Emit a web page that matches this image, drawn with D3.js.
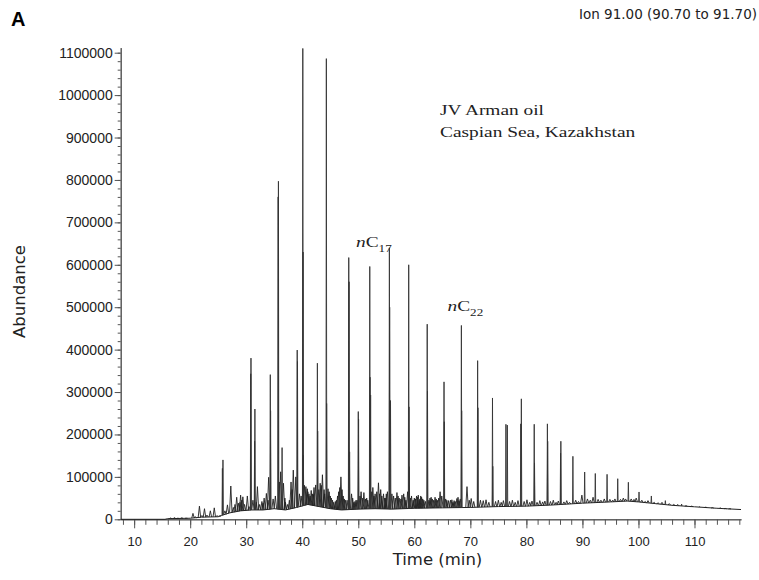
<!DOCTYPE html>
<html>
<head>
<meta charset="utf-8">
<script src="https://cdn.jsdelivr.net/npm/d3@7"></script>
<style>
body { margin: 0; background: #fff; }
</style>
</head>
<body>
<div id="graph_draw"></div>
<script>
// tick labels
var xTicks = [10, 20, 30, 40, 50, 60, 70, 80, 90, 100, 110];
var yTicks = [0, 100000, 200000, 300000, 400000, 500000, 600000, 700000, 800000, 900000, 1000000, 1100000];

// big peaks (n-alkanes and the strong aromatics), time in min / abundance
var peakTimes = [25.75, 25.85, 30.8, 30.85, 31.5, 31.55, 34.3, 34.35, 35.7, 35.75, 36.4, 39.1, 39.15,
    40.1, 40.15, 40.2, 42.7, 42.75, 44.3, 44.35, 48.3, 48.35, 48.45, 50.0, 50.05, 52.05, 52.1, 52.2,
    55.55, 55.6, 55.75, 59.0, 59.05, 59.1, 62.3, 62.35, 65.3, 65.35, 68.4, 68.45, 71.3, 71.35,
    73.95, 74.0, 76.35, 76.6, 79.0, 79.1, 81.4, 81.45, 83.75, 83.8, 86.1, 86.15, 88.3, 90.4,
    92.3, 94.4, 96.3, 98.2, 100.1, 102.3, 104.8, 107.7, 110.9, 114.6];
var peakHeights = [120000, 140000, 343000, 380000, 184000, 260000, 341000, 256000, 760000, 797000, 169000, 399000, 372000,
    1110000, 630000, 151000, 368000, 208000, 1086000, 273000, 617000, 560000, 159000, 254000, 236000, 596000, 335000, 293000,
    640000, 500000, 280000, 600000, 265000, 124000, 460000, 302000, 324000, 230000, 457000, 256000, 374000, 263000,
    286000, 125000, 224000, 222000, 225000, 284000, 224000, 133000, 225000, 184000, 156000, 184000, 148500, 111500,
    108000, 106000, 95700, 87300, 64400, 55000, 44000, 36000, 30000, 27500];

// small peaks riding on the hump
var minorTimes = [16.5, 17.2, 17.8, 18.5, 19.3, 20.5, 20.9, 21.65, 22.1, 22.55, 23.0, 23.6, 24.3, 24.8, 25.3,
    26.2, 26.65, 27.25, 27.7, 28.0, 28.3, 28.6, 29.0, 29.4, 29.7, 30.2, 30.5,
    31.2, 32.0, 32.4, 32.8, 33.2, 33.6, 34.0, 34.8, 35.2, 35.9, 36.15, 36.65,
    37.0, 37.4, 38.0, 38.4, 38.85, 39.5, 40.65, 41.0, 41.4, 41.8, 42.1, 42.4, 43.2, 43.6, 43.9,
    44.8, 45.2, 45.6, 46.1, 46.5, 46.9, 47.3, 47.7, 48.8, 49.2, 49.6, 50.5, 51.0, 51.5,
    52.6, 53.0, 53.6, 54.0, 54.5, 54.9, 55.2, 56.3, 56.9, 57.3, 57.8, 58.1, 58.5, 59.5,
    60.0, 60.4, 60.7, 61.0, 61.3, 61.7, 62.8, 63.2, 63.7, 64.1, 64.6, 64.9, 65.8, 66.45, 66.9, 67.3, 67.6, 68.0,
    69.4, 69.8, 70.15, 70.6, 71.8, 72.3, 72.8, 73.3, 74.5, 75.0, 75.5, 75.9, 77.0, 77.5, 78.0, 78.5,
    79.6, 80.1, 80.6, 81.0, 81.9, 82.4, 82.9, 83.3, 84.3, 84.8, 85.3, 85.7, 86.7, 87.2, 87.7,
    88.8, 89.3, 89.9, 90.9, 91.4, 91.9, 92.8, 93.3, 93.9, 94.9, 95.4, 95.8, 96.8, 97.3, 97.7,
    98.7, 99.2, 99.6, 100.6, 101.2, 101.7, 102.8, 103.5, 104.2, 105.5, 106.3, 107.0, 108.5, 109.5,
    112.0, 113.2, 115.5, 116.3];
var minorHeights = [3000, 4000, 2500, 3500, 2500, 14000, 6000, 31000, 9000, 25000, 10000, 20000, 27000, 9000, 8000,
    20000, 34000, 78500, 28000, 35000, 52000, 38000, 57000, 53000, 35000, 55000, 30000,
    45000, 77000, 35000, 42000, 50000, 61000, 99000, 48000, 55000, 88000, 112000, 85000,
    40000, 35000, 88000, 116000, 100000, 60000, 77000, 65000, 55000, 60000, 75000, 81000, 85000, 105000, 70000,
    65000, 50000, 40000, 45000, 65000, 100000, 55000, 45000, 60000, 40000, 45000, 65000, 63000, 50000,
    75000, 60000, 86000, 70000, 60000, 50000, 65000, 55000, 63000, 50000, 57000, 60000, 45000, 55000,
    50000, 55000, 57000, 48000, 52000, 45000, 50000, 48000, 52000, 45000, 65000, 55000, 45000, 45000, 40000, 42000, 49000, 44000,
    77000, 45000, 49000, 42000, 45000, 44000, 46000, 40000, 42000, 45000, 40000, 44000, 42000, 45000, 40000, 44000,
    42000, 46000, 40000, 43000, 40000, 44000, 41000, 43000, 42000, 45000, 40000, 43000, 41000, 44000, 40000,
    45000, 42000, 57000, 48000, 45000, 52000, 47000, 45000, 48000, 47000, 45000, 48000, 47000, 50000, 48000,
    48000, 47000, 50000, 45000, 42000, 44000, 40000, 39000, 40000, 37000, 35000, 35000, 32000, 31000,
    28500, 27500, 25500, 25000];

// denser clutter between the n-alkanes (28-68 min)
var clutterTimes = [28.9, 29.2, 31.8, 33.0, 33.9, 36.9, 37.7, 38.2, 39.8, 40.4, 40.9, 41.2, 41.6, 42.0,
    42.95, 43.4, 44.0, 44.6, 45.0, 45.4, 45.9, 46.3, 46.7, 47.1, 47.5, 48.0, 49.0, 49.4, 49.8,
    50.3, 50.8, 51.3, 51.7, 52.4, 52.8, 53.3, 53.8, 54.2, 54.7, 55.0, 56.0, 56.6, 57.1, 57.6,
    58.3, 58.8, 59.3, 59.8, 60.2, 60.55, 60.85, 61.15, 61.5, 62.0, 62.6, 63.0, 63.45, 63.9,
    64.35, 65.6, 66.1, 66.7, 67.1, 67.8, 68.2];
var clutterHeights = [40000, 45000, 40000, 38000, 45000, 50000, 45000, 70000, 55000, 80000, 72000, 60000, 68000, 58000,
    70000, 80000, 60000, 72000, 55000, 45000, 42000, 55000, 75000, 70000, 48000, 45000, 50000, 42000, 45000,
    55000, 50000, 48000, 45000, 65000, 55000, 65000, 60000, 55000, 50000, 60000, 60000, 50000, 55000, 48000,
    52000, 65000, 50000, 45000, 48000, 52000, 45000, 55000, 48000, 42000, 45000, 52000, 45000, 48000,
    50000, 48000, 44000, 46000, 44000, 52000, 48000];

// unresolved hump under the peaks
var baseTimes = [7.6, 15.5, 16, 20, 22, 25, 25.6, 27, 29, 31, 33, 35, 37, 39, 41, 43, 45, 47, 50, 53, 56,
    60, 65, 70, 75, 80, 85, 90, 95, 98, 100, 103, 106, 110, 114, 118.3];
var baseLevels = [0, 0, 1500, 2500, 5000, 6000, 9000, 15000, 20000, 22000, 22000, 25000, 22000, 28000, 35000, 30000,
    25000, 22000, 24000, 25000, 24000, 26000, 27000, 28000, 30000, 31000, 34000, 38000, 41000, 43000, 41000,
    37000, 33000, 29500, 26000, 23000];

var svg = d3.select("#graph_draw").append("svg")
    .attr("width", 759)
    .attr("height", 580)
    .style("font-family", "'DejaVu Sans', sans-serif");

// scales
var x = d3.scaleLinear().domain([7.6, 118.3]).range([120.7, 741]);
var y = d3.scaleLinear().domain([0, 1112000]).range([519.3, 47.6]);
var base = d3.scaleLinear().domain(baseTimes).range(baseLevels);

// x axis: minor ticks every 2 min, labelled every 10
svg.append("g")
    .attr("transform", "translate(0,519.3)")
    .call(d3.axisBottom(x).tickValues(d3.range(8, 119, 2)).tickSize(5.5).tickSizeOuter(0).tickFormat(""));
svg.append("g")
    .attr("transform", "translate(0,519.3)")
    .call(d3.axisBottom(x).tickValues(xTicks).tickSize(9).tickSizeOuter(0).tickPadding(8))
    .call(function(g) { g.selectAll("text").style("font-size", "13px").attr("fill", "#222"); });

// y axis: minor ticks every 20000
svg.append("g")
    .attr("transform", "translate(120.7,0)")
    .call(d3.axisLeft(y).tickValues(d3.range(0, 1112000, 20000)).tickSize(3).tickSizeOuter(0).tickFormat(""));
svg.append("g")
    .attr("transform", "translate(120.7,0)")
    .call(d3.axisLeft(y).tickValues(yTicks).tickSize(6).tickSizeOuter(0).tickPadding(2).tickFormat(d3.format("d")))
    .call(function(g) { g.selectAll("text").style("font-size", "14px").attr("fill", "#222"); });

svg.selectAll(".domain, .tick line").attr("stroke", "#555");

// the trace: hump line first
var line = d3.line()
    .x(function(d) { return x(d[0]); })
    .y(function(d) { return y(d[1]); });

svg.append("path")
    .datum(baseTimes.map(function(t, i) { return [t, baseLevels[i]]; }))
    .attr("fill", "none")
    .attr("stroke", "#222")
    .attr("stroke-width", 1)
    .attr("d", line);

// one spike per peak, standing on the hump
function spike(t, h, w) {
    var b = base(t);
    return line([[t - w, b], [t, h], [t + w, b]]);
}

function drawPeaks(times, heights, w, colour) {
    svg.append("g").selectAll("path")
        .data(times.map(function(t, i) { return {t: t, h: heights[i]}; }))
        .enter().append("path")
        .attr("fill", "none")
        .attr("stroke", colour)
        .attr("stroke-width", 0.9)
        .attr("d", function(d) { return spike(d.t, d.h, w); });
}

drawPeaks(clutterTimes, clutterHeights, 0.2, "#222");
drawPeaks(minorTimes, minorHeights, 0.22, "#222");
drawPeaks(peakTimes, peakHeights, 0.07, "#333");

// titles
svg.append("text")
    .attr("x", 11).attr("y", 25.5)
    .style("font-family", "'Liberation Sans', Arial, sans-serif")
    .style("font-weight", "bold")
    .style("font-size", "20px")
    .text("A");

svg.append("text")
    .attr("x", 757).attr("y", 19)
    .attr("text-anchor", "end")
    .style("font-size", "13.5px")
    .attr("fill", "#222")
    .text("Ion 91.00 (90.70 to 91.70)");

svg.append("text")
    .attr("transform", "translate(24.5,291.5) rotate(-90)")
    .attr("text-anchor", "middle")
    .style("font-size", "16.5px")
    .attr("fill", "#222")
    .text("Abundance");

svg.append("text")
    .attr("x", 437.5).attr("y", 565)
    .attr("text-anchor", "middle")
    .style("font-size", "16.5px")
    .attr("fill", "#222")
    .text("Time (min)");

// serif annotations, a bit stretched like the original
function serif(px, py) {
    return svg.append("text")
        .attr("transform", "translate(" + px + "," + py + ") scale(1.25,1)")
        .style("font-family", "'Liberation Serif', 'Times New Roman', serif")
        .style("font-size", "15.5px")
        .attr("fill", "#222");
}

serif(440, 115).text("JV Arman oil");
serif(440, 137).text("Caspian Sea, Kazakhstan");

var c17 = serif(356, 247);
c17.append("tspan").style("font-style", "italic").text("n");
c17.append("tspan").text("C");
c17.append("tspan").attr("dy", 5).style("font-size", "10.5px").text("17");

var c22 = serif(447.5, 311);
c22.append("tspan").style("font-style", "italic").text("n");
c22.append("tspan").text("C");
c22.append("tspan").attr("dy", 5).style("font-size", "10.5px").text("22");
</script>
</body>
</html>
